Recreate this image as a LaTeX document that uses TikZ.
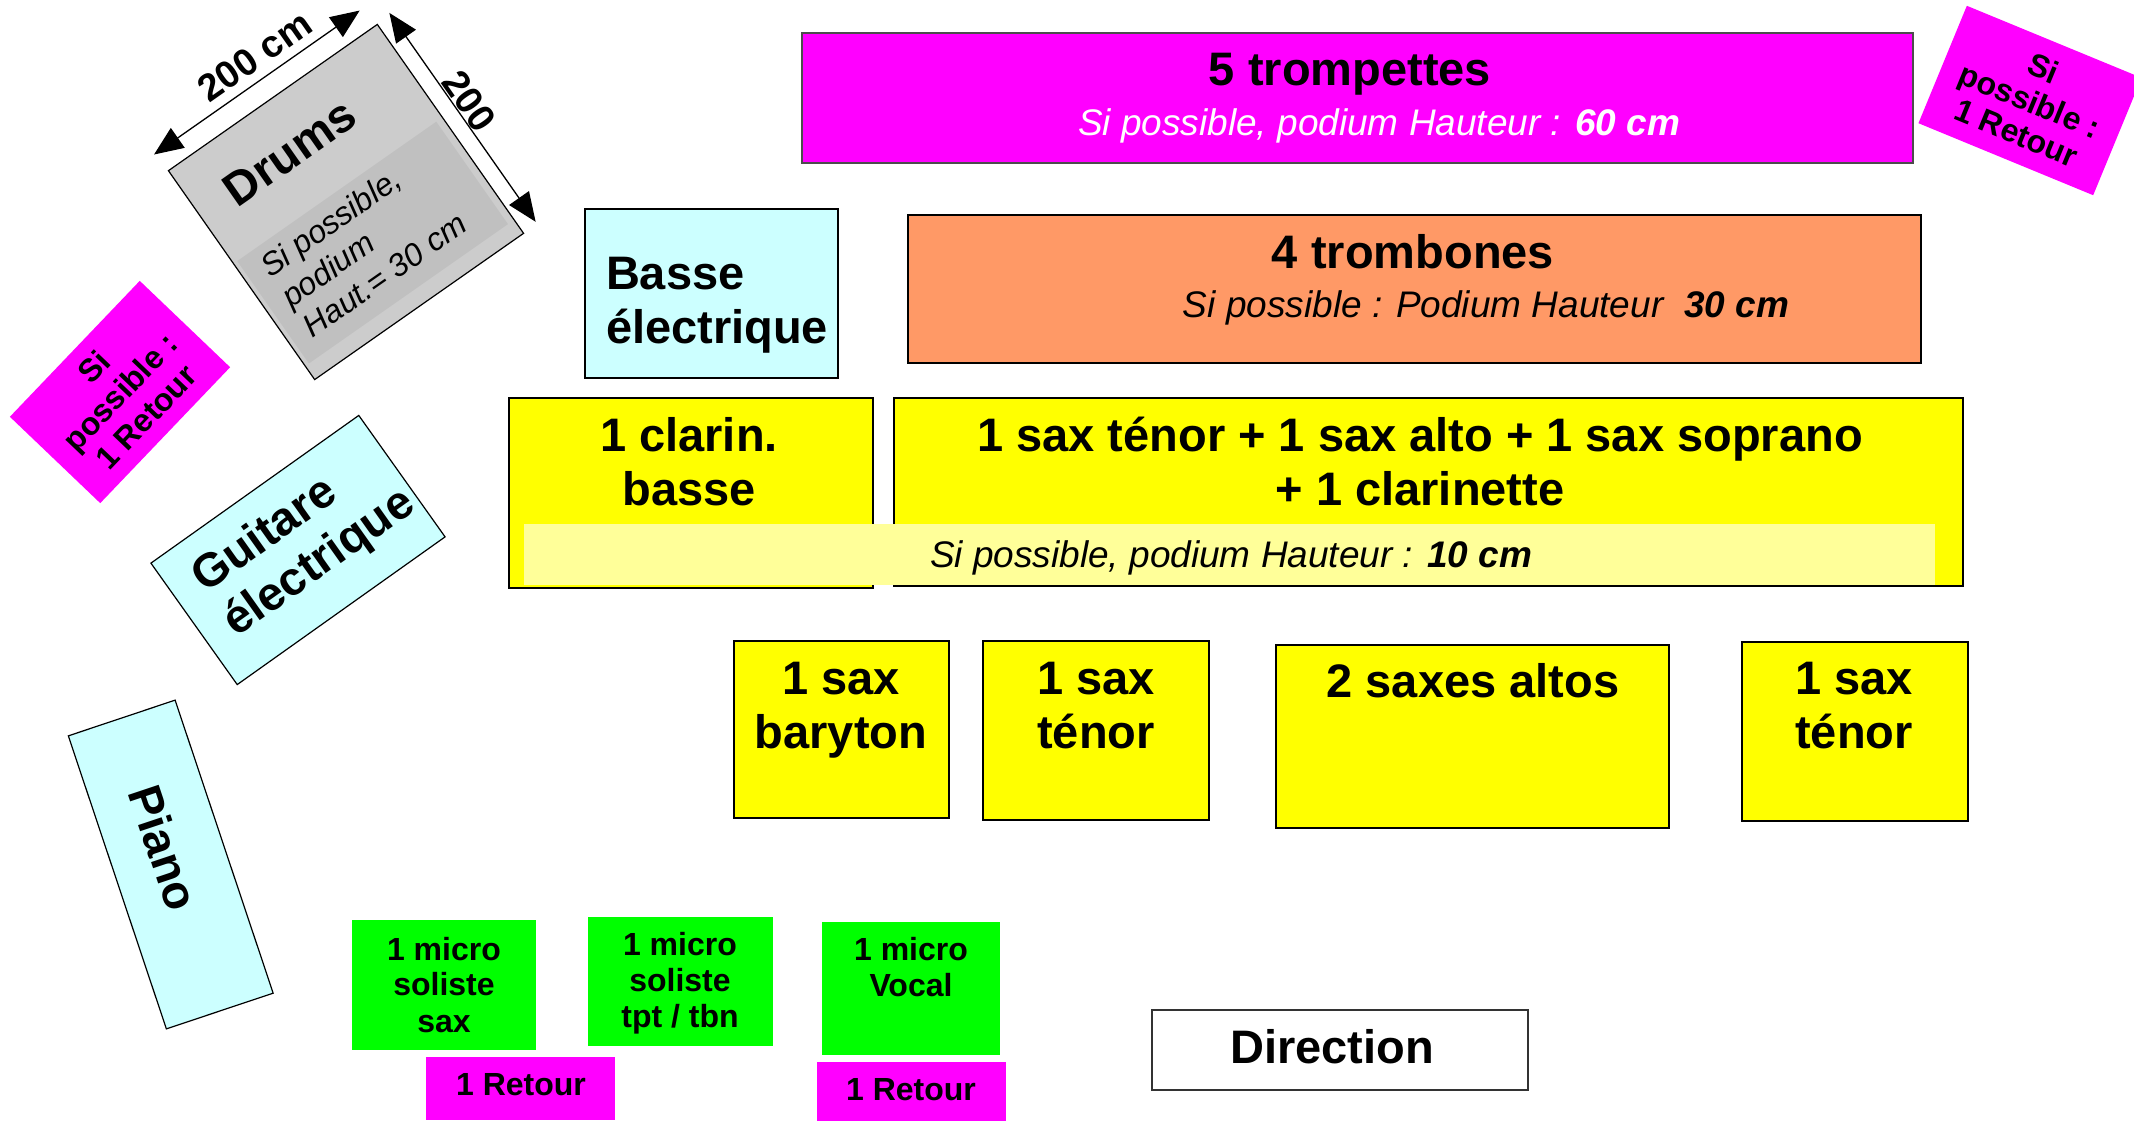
\documentclass[tikz,border=0pt]{standalone}
\usepackage{fontspec}
\setmainfont{Liberation Sans}
\usetikzlibrary{arrows.meta}
\definecolor{mag}{HTML}{FF00FF}
\definecolor{orng}{HTML}{FF9966}
\definecolor{cyanl}{HTML}{CCFFFF}
\definecolor{yel}{HTML}{FFFF00}
\definecolor{paley}{HTML}{FFFF99}
\definecolor{grn}{HTML}{00FF00}
\definecolor{drumg}{HTML}{CCCCCC}
\definecolor{drumb}{HTML}{C0C0C0}
\tikzset{
  hd/.style={font=\fontsize{47}{54}\selectfont\bfseries, inner sep=0pt, outer sep=0pt},
  subt/.style={font=\fontsize{37}{42}\selectfont\itshape, inner sep=0pt, outer sep=0pt},
  dsub/.style={font=\fontsize{32}{37}\selectfont\itshape, inner sep=0pt, outer sep=0pt},
  mic/.style={font=\fontsize{32}{36}\selectfont\bfseries, inner sep=0pt, outer sep=0pt},
  dimlab/.style={font=\fontsize{38}{44}\selectfont\bfseries, inner sep=0pt, outer sep=0pt},
  box/.style={rectangle, draw=black, line width=1.3pt, inner sep=0pt, outer sep=0pt},
  flat/.style={rectangle, draw=none, inner sep=0pt, outer sep=0pt},
  dimline/.style={line width=1.3pt, {Triangle[length=29pt,width=24pt]}-{Triangle[length=29pt,width=24pt]}},
}
\begin{document}
\begin{tikzpicture}[x=1pt,y=-1pt]
\useasboundingbox (0,0) rectangle (2134,1122);
\clip (0,0) rectangle (2134,1122);
\fill[white] (0,0) rectangle (2134,1122);

% trumpets
\node[box, draw=black!70, fill=mag, minimum width=1111pt, minimum height=130pt] (tp) at (1357.5,98) {};
\node[hd, anchor=base] (tpt) at (1350,85) {5 trompettes};
\node[subt, anchor=base, text=white] (tps) at (1379,135) {Si possible, podium Hauteur : \bfseries 60 cm};

% trombones
\node[box, fill=orng, minimum width=1013pt, minimum height=148pt] (tb) at (1414.5,289) {};
\node[hd, anchor=base] (tbt) at (1413,268) {4 trombones};
\node[subt, anchor=base] (tbs) at (1486,317) {Si possible : Podium Hauteur\ \ \bfseries 30 cm};

% basse
\node[box, fill=cyanl, minimum width=253pt, minimum height=169pt] (bs) at (711.5,293.5) {};
\node[hd, anchor=base west] (bst1) at (606,289) {Basse};
\node[hd, anchor=base west] (bst2) at (606,343) {électrique};

% clarinette basse + saxes
\node[box, fill=yel, minimum width=364pt, minimum height=190pt] (cl) at (691,493) {};
\node[box, fill=yel, minimum width=1069pt, minimum height=188pt] (sx) at (1428.5,492) {};
\node[flat, fill=paley, minimum width=1411pt, minimum height=61pt] (strip) at (1229.5,554.5) {};
\node[hd, anchor=base] (clt1) at (689,451) {1 clarin.};
\node[hd, anchor=base] (clt2) at (689,505) {basse};
\node[hd, anchor=base] (sxt1) at (1420,451) {1 sax ténor + 1 sax alto + 1 sax soprano};
\node[hd, anchor=base] (sxt2) at (1420,505) {+ 1 clarinette};
\node[subt, anchor=base] (strt) at (1231,567) {Si possible, podium Hauteur : \bfseries 10 cm};

% lower saxes
\node[box, fill=yel, minimum width=215pt, minimum height=177pt] (bar) at (841.5,729.5) {};
\node[hd, anchor=base] (bart1) at (841,694) {1 sax};
\node[hd, anchor=base] (bart2) at (841,748) {baryton};
\node[box, fill=yel, minimum width=226pt, minimum height=179pt] (ten1) at (1096,730.5) {};
\node[hd, anchor=base] (ten1t1) at (1096,694) {1 sax};
\node[hd, anchor=base] (ten1t2) at (1096,748) {ténor};
\node[box, fill=yel, minimum width=393pt, minimum height=183pt] (alt) at (1472.5,736.5) {};
\node[hd, anchor=base] (altt) at (1473,697) {2 saxes altos};
\node[box, fill=yel, minimum width=226pt, minimum height=179pt] (ten2) at (1855,731.5) {};
\node[hd, anchor=base] (ten2t1) at (1854,694) {1 sax};
\node[hd, anchor=base] (ten2t2) at (1854,748) {ténor};

% direction
\node[box, draw=black!80, line width=1.2pt, fill=white, minimum width=376pt, minimum height=80pt] (dir) at (1340,1050) {};
\node[hd, anchor=base] (dirt) at (1332,1063) {Direction};

% micros
\node[flat, fill=grn, minimum width=184pt, minimum height=130pt] (m1) at (444,985) {};
\node[mic, anchor=base] (m1a) at (444,960) {1 micro};
\node[mic, anchor=base] (m1b) at (444,995) {soliste};
\node[mic, anchor=base] (m1c) at (444,1032) {sax};
\node[flat, fill=grn, minimum width=185pt, minimum height=129pt] (m2) at (680.5,981.5) {};
\node[mic, anchor=base] (m2a) at (680,955) {1 micro};
\node[mic, anchor=base] (m2b) at (680,991) {soliste};
\node[mic, anchor=base] (m2c) at (680,1027) {tpt / tbn};
\node[flat, fill=grn, minimum width=178pt, minimum height=133pt] (m3) at (911,988.5) {};
\node[mic, anchor=base] (m3a) at (911,960) {1 micro};
\node[mic, anchor=base] (m3b) at (911,996) {Vocal};
\node[flat, fill=mag, minimum width=189pt, minimum height=63pt] (r1) at (520.5,1088.5) {};
\node[mic, anchor=base] (r1t) at (521,1095) {1 Retour};
\node[flat, fill=mag, minimum width=189pt, minimum height=59pt] (r2) at (911.5,1091.5) {};
\node[mic, anchor=base] (r2t) at (911,1100) {1 Retour};

% drums
\begin{scope}[shift={(346,202)}, rotate=35, transform shape]
  \node[box, line width=1.2pt, fill=drumg, minimum width=255pt, minimum height=255pt] (dr) at (0,0) {};
  \node[flat, fill=drumb, minimum width=243pt, minimum height=125pt] (drband) at (-1.5,48.5) {};
  \node[hd, anchor=base west] (drt) at (-92,-57) {Drums};
  \node[dsub, anchor=base west] (drs1) at (-106,19) {Si possible,};
  \node[dsub, anchor=base west] (drs2) at (-106,56) {podium};
  \node[dsub, anchor=base west] (drs3) at (-106,93) {Haut.= 30 cm};
  \coordinate (d1a) at (-130,-149);
  \coordinate (d1b) at (121,-149);
  \draw[dimline] (d1a) -- (d1b);
  \node[dimlab] (d1l) at (9,-172) {200 cm};
  \coordinate (d2a) at (144,-130);
  \coordinate (d2b) at (144,125);
  \draw[dimline] (d2a) -- (d2b);
  \node[dimlab, rotate=-90] (d2l) at (159,-12) {200};
\end{scope}

% retour left
\begin{scope}[shift={(120,392)}, rotate=46.3, transform shape]
  \node[flat, fill=mag, minimum width=188pt, minimum height=125pt] (rl) at (0,0) {};
  \node[mic, align=center] (rlt) at (0,0) {Si\\possible :\\1 Retour};
\end{scope}

% retour right
\begin{scope}[shift={(2030,100.5)}, rotate=-22.4, transform shape]
  \node[flat, fill=mag, minimum width=189pt, minimum height=127pt] (rr) at (0,0) {};
  \node[font=\fontsize{32}{35}\selectfont\bfseries, inner sep=0pt, align=center] (rrt) at (0,0) {Si\\possible :\\1 Retour};
\end{scope}

% guitare
\begin{scope}[shift={(298,550)}, rotate=35.4, transform shape]
  \node[box, line width=1.2pt, fill=cyanl, minimum width=255pt, minimum height=149pt] (gt) at (0,0) {};
  \node[hd, anchor=base west] (gtt1) at (-101,-18) {Guitare};
  \node[hd, anchor=base west] (gtt2) at (-101,36) {électrique};
\end{scope}

% piano
\node[box, line width=1.2pt, fill=cyanl, rotate=-71.5, minimum width=309pt, minimum height=112.6pt] (pn) at (170.75,864.5) {};
\begin{scope}[shift={(164,848)}, rotate=-71.5, transform shape]
  \node[hd] (pnt) at (0,0) {Piano};
\end{scope}
\end{tikzpicture}
\end{document}
